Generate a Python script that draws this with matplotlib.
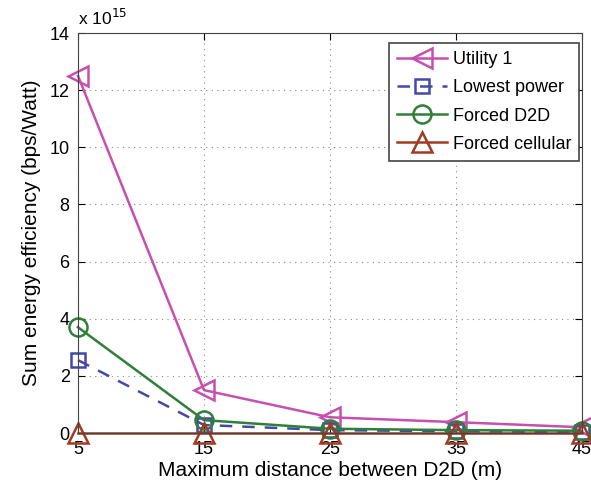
import matplotlib
matplotlib.use("Agg")
import matplotlib.pyplot as plt

# ── Data ──────────────────────────────────────────────────────────────────────
distances = [5, 15, 25, 35, 45]
utility1 = [12.5, 1.5, 0.55, 0.38, 0.2]
lowest_power = [2.55, 0.28, 0.1, 0.06, 0.03]
forced_d2d = [3.7, 0.45, 0.15, 0.1, 0.08]
forced_cellular = [0.01, 0.01, 0.01, 0.01, 0.01]
y_ticks = [0, 2, 4, 6, 8, 10, 12, 14]

plt.rcParams["font.family"] = ["Liberation Sans", "DejaVu Sans"]

fig = plt.figure(figsize=(5.91, 4.84), dpi=100)
ax = fig.add_axes([78 / 591, 1 - 433 / 484, 504 / 591, 400 / 484])

common = dict(lw=1.8, mfc="none", mew=1.8, clip_on=False)
ax.plot(distances, utility1, color="#c550b0", marker="<", ms=14,
        label="Utility 1", **common)
ax.plot(distances, lowest_power, color="#4548a8", ls=(0, (5, 4)), marker="s",
        ms=10, label="Lowest power", **common)
ax.plot(distances, forced_d2d, color="#2f7f3a", marker="o", ms=13,
        label="Forced D2D", **common)
ax.plot(distances, forced_cellular, color="#a03a22", marker="^", ms=14,
        label="Forced cellular", **common)

ax.set_xlim(5, 45)
ax.set_ylim(0, 14)
ax.set_xticks(distances)
ax.set_yticks(y_ticks)
ax.tick_params(direction="in", labelsize=13, length=5, top=True, right=True, pad=6)
ax.grid(True, ls=(0, (1, 4)), color="#888888", lw=0.8)
for s in ax.spines.values():
    s.set_color("#444444")

ax.set_xlabel("Maximum distance between D2D (m)", fontsize=15, labelpad=2)
ax.set_ylabel("Sum energy efficiency (bps/Watt)", fontsize=15, labelpad=6)
ax.text(0.0, 1.012, r"x 10$^{15}$", transform=ax.transAxes, fontsize=12.5,
        ha="left", va="bottom")

leg = ax.legend(loc="upper right", bbox_to_anchor=(0.995, 0.975), fontsize=13,
                fancybox=False, framealpha=1, edgecolor="#444444",
                borderaxespad=0.0, handlelength=2.8, handletextpad=0.3,
                labelspacing=0.62, borderpad=0.45)
leg.get_frame().set_linewidth(1.2)

fig.savefig("out.png", dpi=100)
